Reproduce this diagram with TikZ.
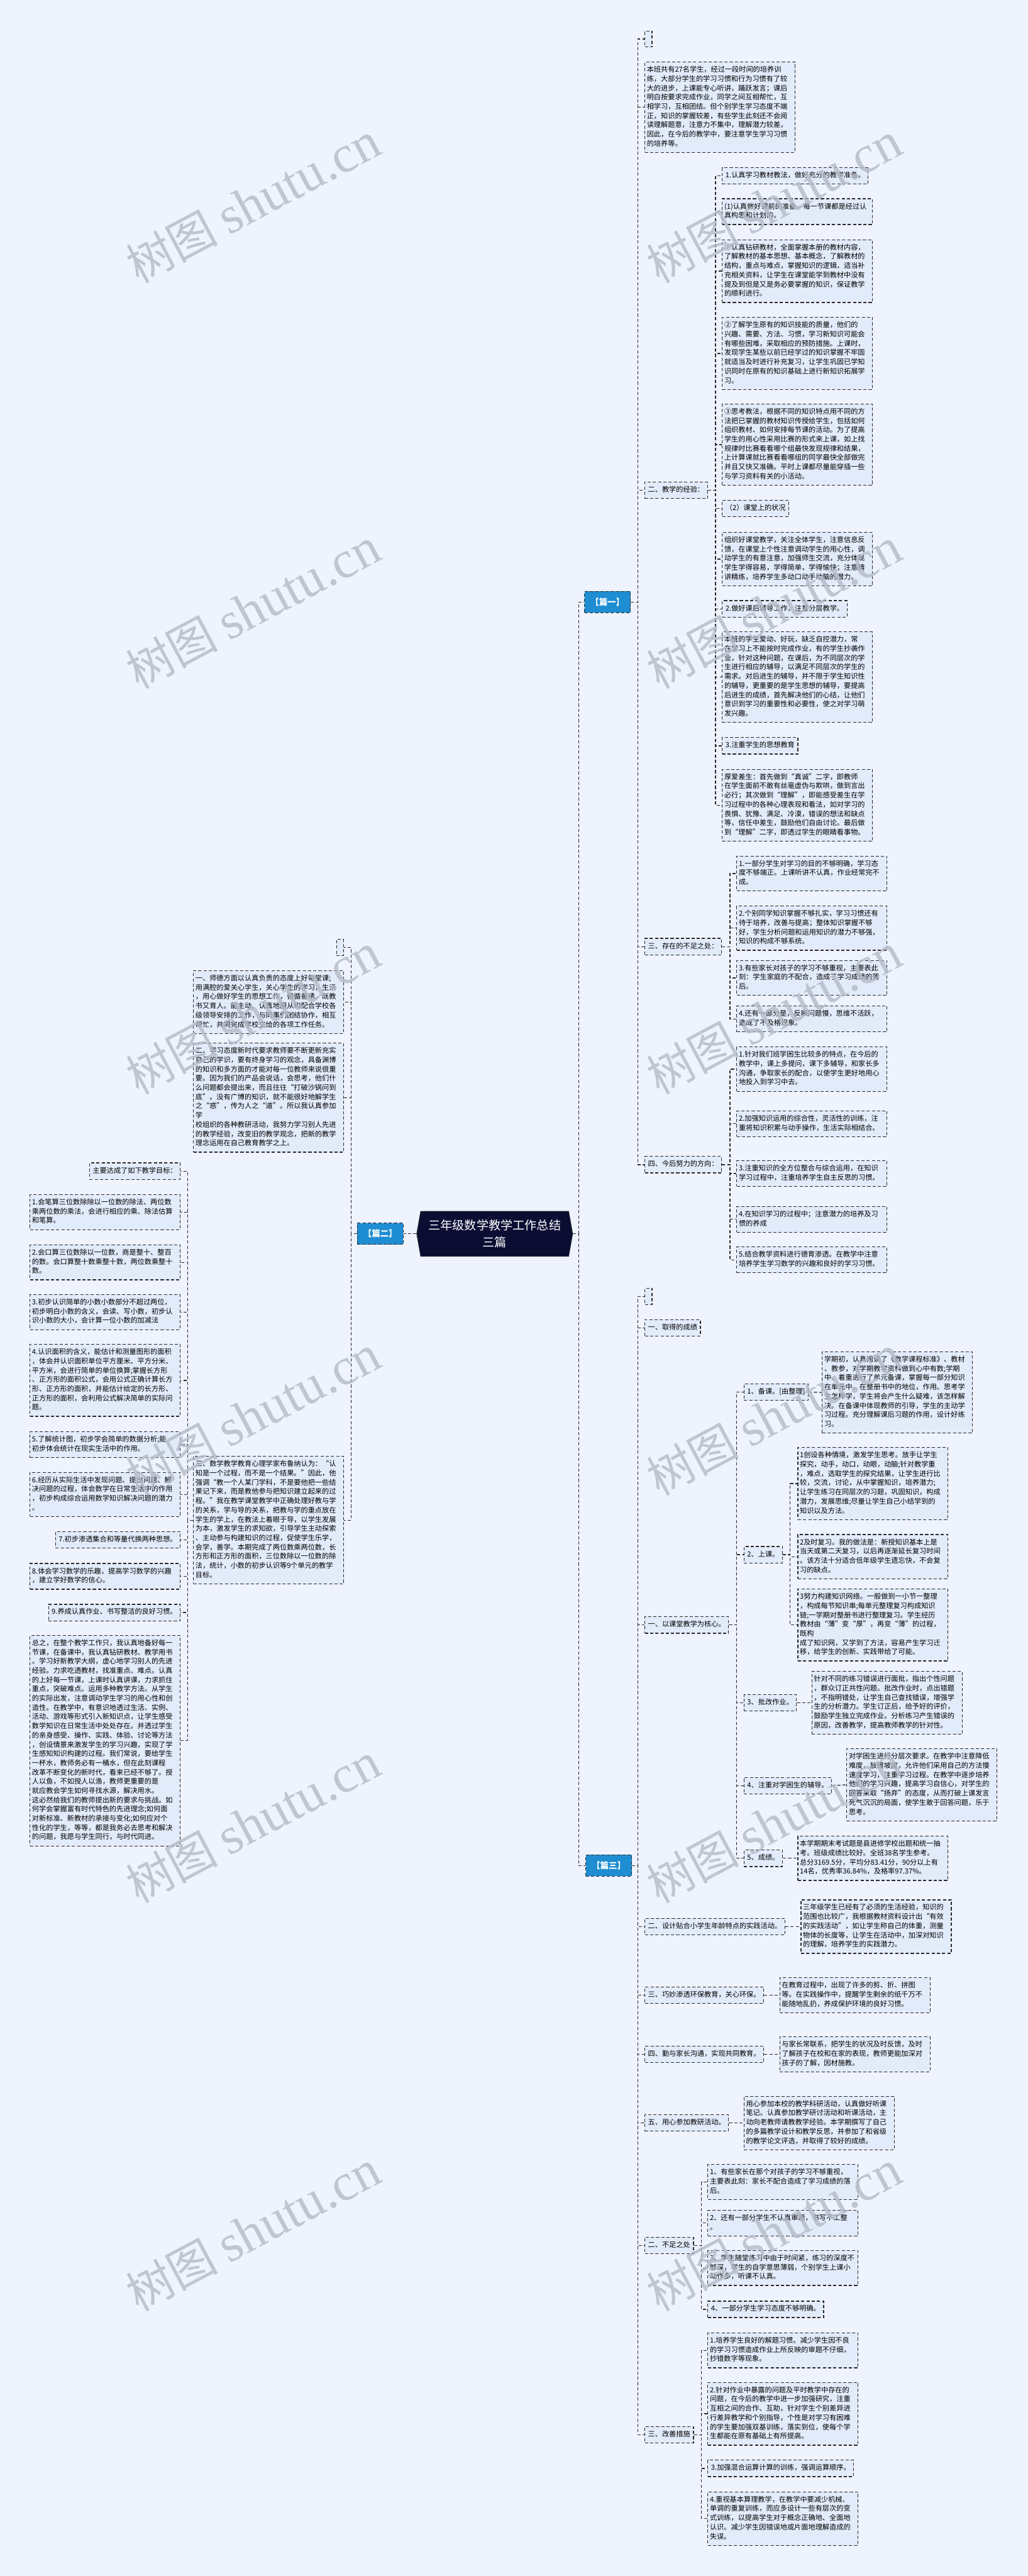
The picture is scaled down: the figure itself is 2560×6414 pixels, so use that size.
\documentclass[tikz,border=0pt]{standalone}
\usepackage{fontspec}
\setmainfont{Noto Sans CJK SC}
\newfontfamily\markfont{Liberation Serif}
\XeTeXlinebreaklocale "zh"
\XeTeXlinebreakskip=0pt
\usetikzlibrary{calc, shapes.symbols}
\definecolor{PageBg}{HTML}{EEF3FE}
\definecolor{BoxFill}{HTML}{E2EBFA}
\definecolor{InkDark}{HTML}{2A2A2A}
\definecolor{TagBlue}{HTML}{1E8DD2}
\definecolor{RootNavy}{HTML}{0C0D33}
\definecolor{MarkGray}{HTML}{B4BAC6}
\newcommand{\notefont}{\fontsize{1.75mm}{2.3mm}\selectfont}

\tikzset{
  link/.style={draw=InkDark, line width=0.55pt, dash pattern=on 0.8mm off 0.5mm},
  notebox/.style={draw=InkDark, line width=0.55pt, dash pattern=on 0.8mm off 0.5mm,
    fill=BoxFill, font=\notefont, inner xsep=0.8mm, inner ysep=0.9mm,
    execute at begin node=\strut, execute at end node=\strut},
  para/.style={notebox, align=left, text width=3.64cm, inner xsep=0.5mm},
  blankbox/.style={draw=InkDark, line width=0.55pt, dash pattern=on 0.8mm off 0.5mm,
    fill=BoxFill, minimum width=0.18cm, minimum height=0.4cm, inner sep=0pt, anchor=west},
  tagbox/.style={draw=InkDark, line width=0.55pt, dash pattern=on 0.8mm off 0.5mm,
    fill=TagBlue, text=white, font=\fontsize{2.1mm}{2.1mm}\selectfont\bfseries,
    minimum width=1.14cm, minimum height=0.53cm, inner sep=0pt},
  rootbox/.style={signal, signal to=east and west, signal pointer angle=160,
    fill=RootNavy, draw=InkDark, text=white, font=\fontsize{3.0mm}{4.2mm}\selectfont,
    align=center, text width=3.5cm, minimum width=3.88cm, minimum height=1.12cm, inner sep=0pt},
  wmark/.style={rotate=28, text=MarkGray, opacity=0.8, font=\fontsize{11.5mm}{11.5mm}\selectfont},
}

\begin{document}
\begin{tikzpicture}[x=0.01cm, y=-0.01cm]
  % Page
  \fill[PageBg] (0,0) rectangle (2560,6414);
  \useasboundingbox (0,0) rectangle (2560,6414);

  % Root and the three parts
  \node[rootbox] (root) at (1232,3072) {三年级数学教学工作总结\\三篇};
  \node[tagbox, anchor=west] (p1) at (1455,1499) {【篇一】};
  \node[tagbox, anchor=east] (p2) at (1005,3072) {【篇二】};
  \node[tagbox, anchor=west] (p3) at (1458,4645) {【篇三】};
  \coordinate (r1) at (1441,0);
  \draw[link] (root.east) -- (root.east -| r1) |- (p1.west);
  \draw[link] (root.east) -- (root.east -| r1) |- (p3.west);
  \draw[link] (root.west) -- (p2.east);

  % ---------------- Part one ----------------
  \node[blankbox] (p1blank) at (1605,97) {};
  \node[para, anchor=west] (p1intro) at (1605,267) {本班共有27名学生，经过一段时间的培养训\\练，大部分学生的学习习惯和行为习惯有了较\\大的进步，上课能专心听讲，踊跃发言；课后\\明白按要求完成作业，同学之间互相帮忙，互\\相学习，互相团结。但个别学生学习态度不端\\正，知识的掌握较差，有些学生此刻还不会阅\\读理解题意，注意力不集中，理解潜力较差，\\因此，在今后的教学中，要注意学生学习习惯\\的培养等。};
  \node[notebox, anchor=west] (p1exp) at (1605,1221) {二、教学的经验：};
  \node[notebox, anchor=west] (p1weak) at (1605,2357) {三、存在的不足之处：};
  \node[notebox, anchor=west] (p1plan) at (1605,2900) {四、今后努力的方向：};
  \coordinate (b1) at (1589,0);
  \foreach \c in {p1blank,p1intro,p1exp,p1weak,p1plan}
    \draw[link] (p1.east) -- (p1.east -| b1) |- (\c.west);

  % teaching experience
  \node[notebox, anchor=west] (e1) at (1798,438) {1.认真学习教材教法，做好充分的教学准备。};
  \node[para, anchor=west] (e2) at (1798,527) {(1)认真做好课前的准备，每一节课都是经过认\\真构思和计划的。};
  \node[para, anchor=west] (e3) at (1798,675) {①认真钻研教材，全面掌握本册的教材内容，了解教材的基本思想、基本概念，了解教材的结构，重点与难点，掌握知识的逻辑，适当补充相关资料，让学生在课堂能学到教材中没有提及到但是又是务必要掌握的知识，保证教学的顺利进行。};
  \node[para, anchor=west] (e4) at (1798,880) {②了解学生原有的知识技能的质量，他们的兴趣、需要、方法、习惯，学习新知识可能会有哪些困难，采取相应的预防措施。上课时，发现学生某些以前已经学过的知识掌握不牢固就适当及时进行补充复习，让学生巩固已学知识同时在原有的知识基础上进行新知识拓展学习。};
  \node[para, anchor=west] (e5) at (1798,1107) {③思考教法，根据不同的知识特点用不同的方法把已掌握的教材知识传授给学生，包括如何组织教材、如何安排每节课的活动。为了提高学生的用心性采用比赛的形式来上课，如上找规律时比赛看看哪个组最快发现规律和结果，上计算课就比赛看看哪组的同学最快全部做完并且又快又准确。平时上课都尽量能穿插一些与学习资料有关的小活动。};
  \node[notebox, anchor=west] (e6) at (1798,1266) {（2）课堂上的状况};
  \node[para, anchor=west] (e7) at (1798,1392) {组织好课堂教学，关注全体学生，注意信息反馈，在课堂上个性注意调动学生的用心性，调动学生的有意注意，加强师生交流，充分体现学生学得容易，学得简单，学得愉快；注意精讲精练，培养学生多动口动手动脑的潜力。};
  \node[notebox, anchor=west] (e8) at (1798,1516) {2.做好课后辅导工作，注意分层教学。};
  \node[para, anchor=west] (e9) at (1798,1686) {本班的学生爱动、好玩，缺乏自控潜力，常在学习上不能按时完成作业，有的学生抄袭作业，针对这种问题，在课后，为不同层次的学生进行相应的辅导，以满足不同层次的学生的需求。对后进生的辅导，并不限于学生知识性的辅导，更重要的是学生思想的辅导，要提高后进生的成绩，首先解决他们的心结，让他们意识到学习的重要性和必要性，使之对学习萌发兴趣。};
  \node[notebox, anchor=west] (e10) at (1798,1857) {3.注重学生的思想教育};
  \node[para, anchor=west] (e11) at (1798,2005) {厚爱差生：首先做到“真诚”二字，即教师在学生面前不敢有丝毫虚伪与欺哄，做到言出必行；其次做到“理解”，即能感受差生在学习过程中的各种心理表现和看法，如对学习的畏惧、犹豫、满足、冷漠，错误的想法和缺点等，信任中差生，鼓励他们自由讨论。最后做到“理解”二字，即透过学生的眼睛看事物。};
  \coordinate (b2) at (1782,0);
  \foreach \c in {e1,e2,e3,e4,e5,e6,e7,e8,e9,e10,e11}
    \draw[link] (p1exp.east) -- (p1exp.east -| b2) |- (\c.west);

  % weak points
  \node[para, anchor=west] (w1) at (1834,2175) {1.一部分学生对学习的目的不够明确，学习态度不够端正。上课听讲不认真，作业经常完不成。};
  \node[para, anchor=west] (w2) at (1834,2311) {2.个别同学知识掌握不够扎实，学习习惯还有待于培养，改善与提高；整体知识掌握不够好，学生分析问题和运用知识的潜力不够强，知识的构成不够系统。};
  \node[para, anchor=west] (w3) at (1834,2435) {3.有些家长对孩子的学习不够重视，主要表此刻：学生家庭的不配合，造成了学习成绩的落后。};
  \node[para, anchor=west] (w4) at (1834,2537) {4.还有一部分是，反映问题慢，思维不活跃，造成了不及格现象。};
  \coordinate (b3) at (1818,0);
  \foreach \c in {w1,w2,w3,w4}
    \draw[link] (p1weak.east) -- (p1weak.east -| b3) |- (\c.west);

  % future work
  \node[para, anchor=west] (f1) at (1834,2662) {1.针对我们班学困生比较多的特点，在今后的教学中，课上多提问，课下多辅导，和家长多沟通，争取家长的配合，以使学生更好地用心地投入到学习中去。};
  \node[para, anchor=west] (f2) at (1834,2798) {2.加强知识运用的综合性，灵活性的训练，注重将知识积累与动手操作，生活实际相结合。};
  \node[para, anchor=west] (f3) at (1834,2922) {3.注重知识的全方位整合与综合运用，在知识学习过程中，注重培养学生自主反思的习惯。};
  \node[para, anchor=west] (f4) at (1834,3036) {4.在知识学习的过程中；注意潜力的培养及习\\惯的养成};
  \node[para, anchor=west] (f5) at (1834,3137) {5.结合教学资料进行德育渗透。在教学中注意\\培养学生学习数学的兴趣和良好的学习习惯。};
  \foreach \c in {f1,f2,f3,f4,f5}
    \draw[link] (p1plan.east) -- (p1plan.east -| b3) |- (\c.west);

  % ---------------- Part two ----------------
  \node[blankbox, anchor=east] (p2blank) at (857,2359) {};
  \node[para, anchor=east] (p2ethic) at (857,2495) {一、师德方面以认真负责的态度上好每堂课;\\用满腔的爱关心学生，关心学生的学习，生活\\，用心做好学生的思想工作，循循善诱，既教\\书又育人。能主动、认真地服从和配合学校各\\级领导安排的工作，与同事们团结协作，相互\\帮忙，共同完成学校交给的各项工作任务。};
  \node[para, anchor=east] (p2study) at (857,2733) {二、学习态度新时代要求教师要不断更新充实\\自己的学识，要有终身学习的观念，具备渊博\\的知识和多方面的才能对每一位教师来说很重\\要。因为我们的产品会说话，会思考，他们什\\么问题都会提出来，而且往往“打破沙锅问到\\底”。没有广博的知识，就不能很好地解学生\\之“惑”，传为人之“道”。所以我认真参加学\\校组织的各种教研活动，我努力学习别人先进\\的教学经验，改变旧的教学观念，把新的教学\\理念运用在自己教育教学之上。};
  \node[para, anchor=east] (p2math) at (857,3785) {三、数学教学教育心理学家布鲁纳认为：“认\\知是一个过程，而不是一个结果。”因此，他\\强调“教一个人某门学科，不是要他把一些结\\果记下来，而是教他参与把知识建立起来的过\\程。”我在教学课堂教学中正确处理好教与学\\的关系，学与导的关系，把教与学的重点放在\\学生的学上，在教法上着眼于导，以学生发展\\为本，激发学生的求知欲，引导学生主动探索\\、主动参与构建知识的过程，促使学生乐学，\\会学，善学。本期完成了两位数乘两位数，长\\方形和正方形的面积，三位数除以一位数的除\\法，统计，小数的初步认识等9个单元的教学\\目标。};
  \coordinate (b4) at (874,0);
  \foreach \c in {p2blank,p2ethic,p2study,p2math}
    \draw[link] (p2.west) -- (p2.west -| b4) |- (\c.east);

  % goals reached
  \node[notebox, anchor=east] (g0) at (450,2916) {主要达成了如下教学目标：};
  \node[para, anchor=east] (g1) at (450,3018) {1.会笔算三位数除除以一位数的除法、两位数\\乘两位数的乘法，会进行相应的乘、除法估算\\和笔算。};
  \node[para, anchor=east] (g2) at (450,3143) {2.会口算三位数除以一位数，商是整十、整百\\的数。会口算整十数乘整十数，两位数乘整十\\数。};
  \node[para, anchor=east] (g3) at (450,3267) {3.初步认识简单的小数小数部分不超过两位，\\初步明白小数的含义，会读、写小数，初步认\\识小数的大小，会计算一位小数的加减法};
  \node[para, anchor=east] (g4) at (450,3437) {4.认识面积的含义，能估计和测量图形的面积\\，体会并认识面积单位平方厘米、平方分米、\\平方米，会进行简单的单位换算;掌握长方形\\、正方形的面积公式，会用公式正确计算长方\\形、正方形的面积，并能估计给定的长方形、\\正方形的面积，会利用公式解决简单的实际问\\题。};
  \node[para, anchor=east] (g5) at (450,3597) {5.了解统计图，初步学会简单的数据分析;能\\初步体会统计在现实生活中的作用。};
  \node[para, anchor=east] (g6) at (450,3721) {6.经历从实际生活中发现问题、提出问题、解\\决问题的过程，体会数学在日常生活中的作用\\，初步构成综合运用数学知识解决问题的潜力\\。};
  \node[notebox, anchor=east] (g7) at (450,3834) {7.初步渗透集合和等量代换两种思想。};
  \node[para, anchor=east] (g8) at (450,3925) {8.体会学习数学的乐趣，提高学习数学的兴趣\\，建立学好数学的信心。};
  \node[notebox, anchor=east] (g9) at (450,4015) {9.养成认真作业、书写整洁的良好习惯。};
  \node[para, anchor=east] (g10) at (450,4334) {总之，在整个教学工作只，我认真地备好每一\\节课，在备课中，我认真钻研教材、教学用书\\。学习好新教学大纲，虚心地学习别人的先进\\经验。力求吃透教材，找准重点、难点。认真\\的上好每一节课，上课时认真讲课，力求抓住\\重点，突破难点。运用多种教学方法。从学生\\的实际出发，注意调动学生学习的用心性和创\\造性。在教学中，有意识地透过生活、实例、\\活动、游戏等形式引入新知识点，让学生感受\\数学知识在日常生活中处处存在。并透过学生\\的亲身感受、操作、实践、体验、讨论等方法\\，创设情景来激发学生的学习兴趣，实现了学\\生感知知识构建的过程。我们常说，要给学生\\一杯水，教师务必有一桶水，但在此刻课程\\改革不断变化的新时代，看来已经不够了。授\\人以鱼，不如授人以渔，教师更重要的是\\就应教会学生如何寻找水源，解决用水。\\这必然给我们的教师提出新的要求与挑战。如\\何学会掌握富有时代特色的先进理念;如何面\\对新标准、新教材的承接与变化;如何应对个\\性化的学生，等等，都是我务必去思考和解决\\的问题，我愿与学生同行，与时代同进。};
  \coordinate (b5) at (467,0);
  \foreach \c in {g0,g1,g2,g3,g4,g5,g6,g7,g8,g9,g10}
    \draw[link] (p2math.west) -- (p2math.west -| b5) |- (\c.east);

  % ---------------- Part three ----------------
  \node[blankbox] (p3blank) at (1605,3228) {};
  \node[notebox, anchor=west] (p3gain) at (1605,3306) {一、取得的成绩};
  \node[notebox, anchor=west] (p3core) at (1605,4046) {一、以课堂教学为核心。};
  \node[notebox, anchor=west] (p3act) at (1605,4797) {二、设计贴合小学生年龄特点的实践活动。};
  \node[notebox, anchor=west] (p3eco) at (1605,4968) {三、巧妙渗透环保教育，关心环保。};
  \node[notebox, anchor=west] (p3home) at (1605,5115) {四、勤与家长沟通，实现共同教育。};
  \node[notebox, anchor=west] (p3res) at (1605,5286) {五、用心参加教研活动。};
  \node[notebox, anchor=west] (p3weak) at (1605,5591) {二、不足之处};
  \node[notebox, anchor=west] (p3fix) at (1605,6062) {三、改善措施};
  \foreach \c in {p3blank,p3gain,p3core,p3act,p3eco,p3home,p3res,p3weak,p3fix}
    \draw[link] (p3.east) -- (p3.east -| b1) |- (\c.west);

  % classroom teaching
  \node[notebox, anchor=west] (c1) at (1852,3466) {1、备课。[由整理]};
  \node[notebox, anchor=west] (c2) at (1852,3871) {2、上课。};
  \node[notebox, anchor=west] (c3) at (1852,4240) {3、批改作业。};
  \node[notebox, anchor=west] (c4) at (1852,4446) {4、注重对学困生的辅导。};
  \node[notebox, anchor=west] (c5) at (1852,4627) {5、成绩。};
  \coordinate (b6) at (1835,0);
  \foreach \c in {c1,c2,c3,c4,c5}
    \draw[link] (p3core.east) -- (p3core.east -| b6) |- (\c.west);

  \node[para, anchor=west] (c1x) at (2047,3467) {学期初，认真阅读了《数学课程标准》、教材\\、教参，对学期教学资料做到心中有数;学期\\中，着重进行了单元备课，掌握每一部分知识\\在单元中，在整册书中的地位，作用。思考学\\生怎样学，学生将会产生什么疑难，该怎样解\\决。在备课中体现教师的引导，学生的主动学\\习过程。充分理解课后习题的作用，设计好练\\习。};
  \node[para, anchor=west] (c21) at (1986,3694) {1创设各种情境，激发学生思考。放手让学生\\探究，动手，动口，动眼，动脑;针对教学重\\，难点，选取学生的探究结果，让学生进行比\\较，交流，讨论，从中掌握知识，培养潜力;\\让学生练习在同层次的习题，巩固知识，构成\\潜力，发展思维;尽量让学生自己小结学到的\\知识以及方法。};
  \node[para, anchor=west] (c22) at (1986,3876) {2及时复习。我的做法是：新授知识基本上是\\当天或第二天复习，以后再逐渐延长复习时间\\。该方法十分适合低年级学生遗忘快，不会复\\习的缺点。};
  \node[para, anchor=west] (c23) at (1986,4046) {3努力构建知识网络。一般做到一小节一整理\\，构成每节知识串;每单元整理复习构成知识\\链;一学期对整册书进行整理复习。学生经历\\教材由“薄”变“厚”，再变“薄”的过程，既构\\成了知识网，又学到了方法，容易产生学习迁\\移，给学生的创新、实践带给了可能。};
  \coordinate (b7) at (1968,0);
  \foreach \c in {c21,c22,c23}
    \draw[link] (c2.east) -- (c2.east -| b7) |- (\c.west);
  \node[para, anchor=west] (c3x) at (2021,4240) {针对不同的练习错误进行面批，指出个性问题\\，群众订正共性问题。批改作业时，点出错题\\，不指明错处，让学生自己查找错误，增强学\\生的分析潜力。学生订正后，给予好的评价，\\鼓励学生独立完成作业。分析练习产生错误的\\原因，改善教学，提高教师教学的针对性。};
  \node[para, anchor=west] (c4x) at (2108,4444) {对学困生进行分层次要求。在教学中注意降低\\难度，放缓坡度，允许他们采用自己的方法慢\\速度学习，注重学习过程。在教学中逐步培养\\他们的学习兴趣，提高学习自信心，对学生的\\回答采取“扬弃”的态度，从而打破上课发言\\死气沉沉的局面，使学生敢于回答问题，乐于\\思考。};
  \node[para, anchor=west] (c5x) at (1986,4627) {本学期期末考试题是县进修学校出题和统一抽\\考。班级成绩比较好。全班38名学生参考。\\总分3169.5分，平均分83.41分，90分以上有\\14名，优秀率36.84\%，及格率97.37\%。};
  \draw[link] (c1.east) -- (c1x.west);
  \draw[link] (c3.east) -- (c3x.west);
  \draw[link] (c4.east) -- (c4x.west);
  \draw[link] (c5.east) -- (c5x.west);

  % activities, environment, parents, research
  \node[para, anchor=west] (p3actx) at (1994,4797) {三年级学生已经有了必须的生活经验，知识的范围也比较广，我根据教材资料设计出“有效的实践活动”，如让学生称自己的体重，测量物体的长度等，让学生在活动中，加深对知识的理解，培养学生的实践潜力。};
  \node[para, anchor=west] (p3ecox) at (1941,4968) {在教育过程中，出现了许多的剪、折、拼图等。在实践操作中，提醒学生剩余的纸千万不能随地乱扔，养成保护环境的良好习惯。};
  \node[para, anchor=west] (p3homex) at (1941,5115) {与家长常联系，把学生的状况及时反馈，及时了解孩子在校和在家的表现，教师更能加深对孩子的了解，因材施教。};
  \node[para, anchor=west] (p3resx) at (1852,5286) {用心参加本校的教学科研活动，认真做好听课笔记。认真参加教学研讨活动和听课活动，主动向老教师请教教学经验。本学期撰写了自己的多篇教学设计和教学反思，并参加了和省级的教学论文评选，并取得了较好的成绩。};
  \draw[link] (p3act.east) -- (p3actx.west);
  \draw[link] (p3eco.east) -- (p3ecox.west);
  \draw[link] (p3home.east) -- (p3homex.west);
  \draw[link] (p3res.east) -- (p3resx.west);

  % shortcomings
  \node[para, anchor=west] (s1) at (1762,5433) {1、有些家长在那个对孩子的学习不够重视，主要表此刻：家长不配合造成了学习成绩的落后。};
  \node[para, anchor=west] (s2) at (1762,5535) {2、还有一部分学生不认真审题，书写不工整\\。};
  \node[para, anchor=west] (s3) at (1762,5647) {3、学生随堂练习中由于时间紧，练习的深度不够深，学生的自学意思薄弱，个别学生上课小动作多，听课不认真。};
  \node[notebox, anchor=west] (s4) at (1762,5750) {4、一部分学生学习态度不够明确。};
  \coordinate (b8) at (1747,0);
  \foreach \c in {s1,s2,s3,s4}
    \draw[link] (p3weak.east) -- (p3weak.east -| b8) |- (\c.west);

  % improvements
  \node[para, anchor=west] (m1) at (1762,5852) {1.培养学生良好的解题习惯。减少学生因不良的学习习惯造成作业上所反映的审题不仔细，抄错数字等现象。};
  \node[para, anchor=west] (m2) at (1762,6010) {2.针对作业中暴露的问题及平时教学中存在的问题，在今后的教学中进一步加强研究，注重互相之间的合作、互助，针对学生个别差异进行差异教学和个别指导，个性是对学习有困难的学生要加强双基训练，落实到位，使每个学生都能在原有基础上有所提高。};
  \node[notebox, anchor=west] (m3) at (1762,6146) {3.加强混合运算计算的训练，强调运算顺序。};
  \node[para, anchor=west] (m4) at (1762,6271) {4.重视基本算理教学，在教学中要减少机械、单调的重复训练，而应多设计一些有层次的变式训练，以提高学生对于概念正确地、全面地认识。减少学生因错误地或片面地理解造成的失误。};
  \foreach \c in {m1,m2,m3,m4}
    \draw[link] (p3fix.east) -- (p3fix.east -| b8) |- (\c.west);

  % Watermarks
  \foreach \y in {505,1515,2525,3525,4540,5555} {
    \node[wmark] at (630,\y) {树图 {\markfont\fontsize{13mm}{13mm}\selectfont shutu.cn}};
    \node[wmark] at (1928,\y) {树图 {\markfont\fontsize{13mm}{13mm}\selectfont shutu.cn}};
  }
\end{tikzpicture}
\end{document}
